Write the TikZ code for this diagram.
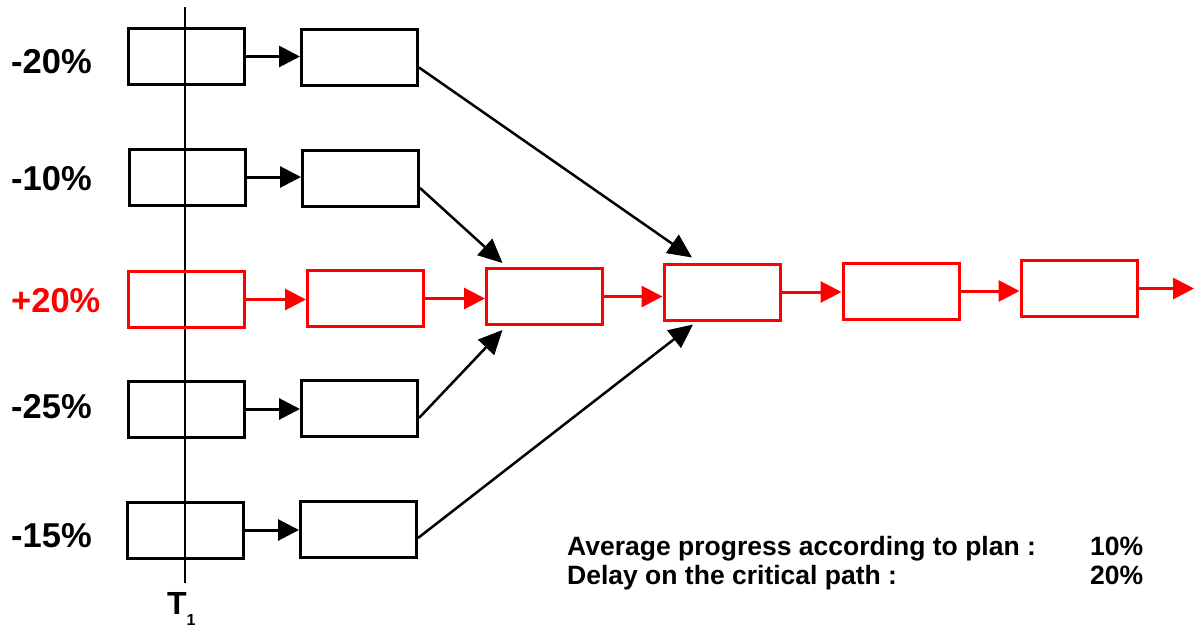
\documentclass[tikz,border=0pt]{standalone}
\usepackage{fontspec}
\setmainfont{Liberation Sans}
\usetikzlibrary{arrows.meta}
\begin{document}
\begin{tikzpicture}[x=1pt,y=-1pt,
  task/.style={draw, line width=3pt, minimum width=116pt, minimum height=56pt, inner sep=0pt},
  crit/.style={task, draw=red},
  link/.style={line width=3pt, -{Triangle[length=21pt,width=21pt]}},
  critlink/.style={link, draw=red, fill=red},
  merge/.style={line width=2.5pt, -{Triangle[length=24pt,width=22pt]}},
  pct/.style={anchor=base west, inner sep=0pt, font=\bfseries\fontsize{34.5}{35}\selectfont},
  note/.style={anchor=base west, inner sep=0pt, font=\bfseries\fontsize{26.5}{29}\selectfont}]
\fill[white] (0,0) rectangle (1194,627);
\useasboundingbox (0,0) rectangle (1194,627);

% time line T1
\coordinate (ttop) at (185,7);
\coordinate (tbot) at (185,583);
\draw[line width=2pt] (ttop) -- (tbot);
\node[anchor=base west, inner sep=0pt, font=\bfseries\fontsize{32}{32}\selectfont] (t1) at (167,614)
  {T\raisebox{-11pt}{\fontsize{16}{16}\selectfont 1}};

% progress of each branch
\node[pct] (p1) at (11,73) {-20\%};
\node[pct] (p2) at (11,190) {-10\%};
\node[pct, text=red] (p3) at (11,312) {+20\%};
\node[pct] (p4) at (11,418) {-25\%};
\node[pct] (p5) at (11,547) {-15\%};

% feeding branches
\node[task] (a1) at (186,56.5) {};
\node[task] (b1) at (359.5,57.5) {};
\node[task] (a2) at (187.5,177) {};
\node[task] (b2) at (360.5,178) {};
\node[task] (a4) at (186,409) {};
\node[task] (b4) at (359.5,408) {};
\node[task] (a5) at (185,530) {};
\node[task] (b5) at (358.5,529) {};

% critical path
\node[crit] (a3) at (186.5,299.5) {};
\node[crit] (b3) at (365.5,298.5) {};
\node[crit] (c3) at (544.5,296.5) {};
\node[crit] (d3) at (722,292) {};
\node[crit] (e3) at (901,291) {};
\node[crit] (f3) at (1079,288.5) {};
\coordinate (out) at (1194,288.5);

% links within the branches
\draw[link] (a1.east) -- (a1.east -| b1.west);
\draw[link] (a2.east) -- (a2.east -| b2.west);
\draw[link] (a4.east) -- (a4.east -| b4.west);
\draw[link] (a5.east) -- (a5.east -| b5.west);

\draw[critlink] (a3.east) -- (a3.east -| b3.west);
\draw[critlink] (b3.east) -- (b3.east -| c3.west);
\draw[critlink] (c3.east) -- (c3.east -| d3.west);
\draw[critlink] (d3.east) -- (d3.east -| e3.west);
\draw[critlink] (e3.east) -- (e3.east -| f3.west);
\draw[critlink] (f3.east) -- (out);

% branches merging into the critical path
\draw[merge] ([yshift=-10pt]b1.east) -- ([xshift=-30pt,yshift=5pt]d3.north);
\draw[merge] ([yshift=-10pt]b2.east) -- ([xshift=-42pt,yshift=4pt]c3.north);
\draw[merge] ([yshift=-10pt]b4.east) -- ([xshift=-42pt,yshift=-4pt]c3.south);
\draw[merge] ([yshift=-9pt]b5.east) -- ([xshift=-29pt,yshift=-3pt]d3.south);

% summary
\node[note] (avg) at (567,555) {Average progress according to plan :};
\node[note] (avgv) at (1090,555) {10\%};
\node[note] (del) at (567,584) {Delay on the critical path :};
\node[note] (delv) at (1090,584) {20\%};
\end{tikzpicture}
\end{document}
